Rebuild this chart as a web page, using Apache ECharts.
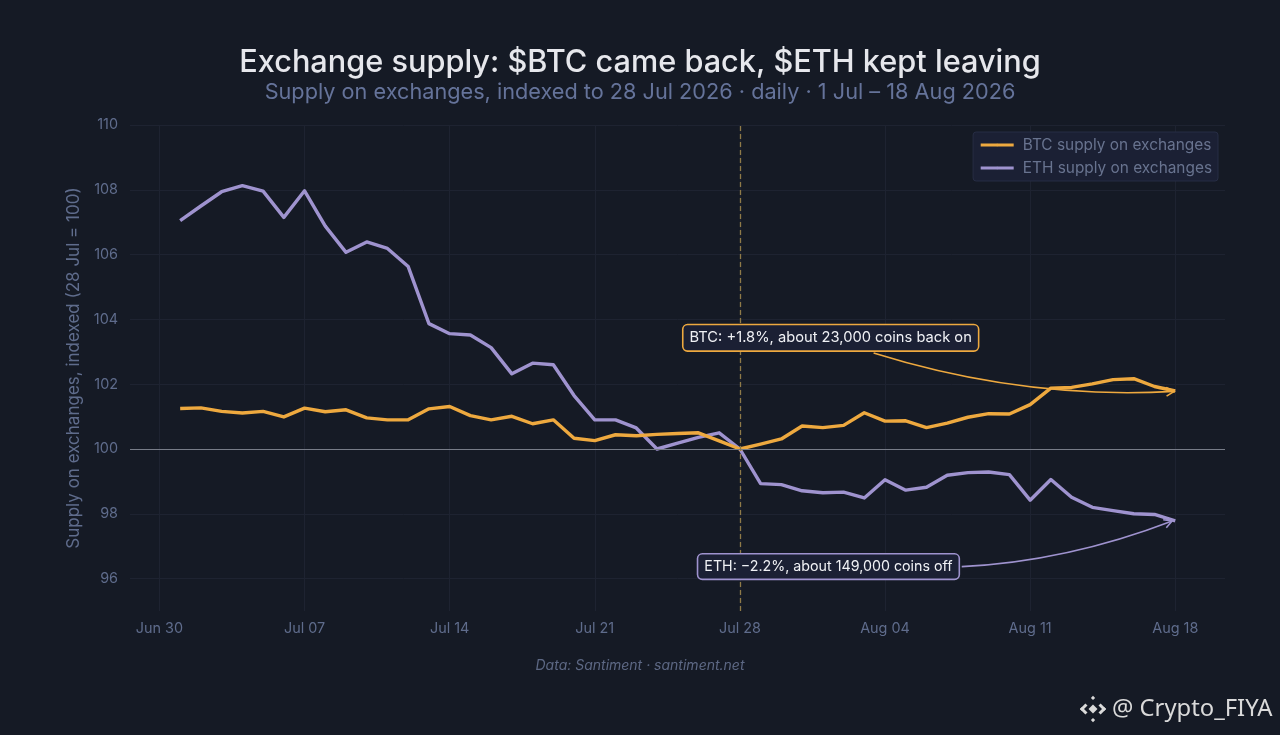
<!DOCTYPE html>
<html><head><meta charset="utf-8">
<script src="https://cdn.jsdelivr.net/npm/echarts@6/dist/echarts.min.js"></script>
<style>html,body{margin:0;padding:0;background:#151a25}#c{width:1280px;height:735px}</style>
</head><body><div id="c"></div>
<script>
// Day index: 0 = Jun 30, 1 = Jul 1 ... 49 = Aug 18
const days = [1,2,3,4,5,6,7,8,9,10,11,12,13,14,15,16,17,18,19,20,21,22,23,24,25,26,27,28,29,30,31,32,33,34,35,36,37,38,39,40,41,42,43,44,45,46,47,48,49];
const btc = [101.25,101.27,101.16,101.11,101.16,100.99,101.26,101.15,101.21,100.96,100.90,100.90,101.24,101.31,101.03,100.90,101.01,100.78,100.90,100.33,100.26,100.44,100.41,100.45,100.48,100.50,100.25,100.0,100.15,100.31,100.71,100.66,100.73,101.12,100.86,100.87,100.66,100.80,100.98,101.09,101.08,101.37,101.88,101.90,102.01,102.14,102.17,101.93,101.79];
const eth = [107.05,107.5,107.94,108.13,107.96,107.15,107.97,106.88,106.07,106.39,106.19,105.63,103.87,103.56,103.52,103.13,102.32,102.65,102.60,101.65,100.90,100.90,100.65,100.0,100.18,100.36,100.50,100.0,98.93,98.90,98.71,98.65,98.67,98.49,99.05,98.73,98.82,99.19,99.27,99.29,99.21,98.42,99.06,98.51,98.20,98.10,98.0,97.98,97.78];
const xTickValues = [0,7,14,21,28,35,42,49];
const xTickLabels = ['Jun 30','Jul 07','Jul 14','Jul 21','Jul 28','Aug 04','Aug 11','Aug 18'];
const yTickValues = [96,98,100,102,104,106,108,110];
const refDay = 28, refLevel = 100;
const legendNames = ['BTC supply on exchanges','ETH supply on exchanges'];
const BTC_C = '#EEA93F', ETH_C = '#9F93CF';
// callouts: label centre [day, value], arrow start, arrow end, bow in px
const callouts = [
  {text:'BTC: +1.8%, about 23,000 coins back on', size:14.7, color:BTC_C, at:[32.38,103.43], from:[34.45,102.96], to:[48.95,101.78], bow:14},
  {text:'ETH: \u22122.2%, about 149,000 coins off', size:14.25, color:ETH_C, at:[32.27,96.37], from:[38.7,96.37], to:[48.85,97.78], bow:9}
];

const chart = echarts.init(document.getElementById('c'));
const FONT = 'Inter, "Noto Sans", sans-serif';
const GRID = {color:'#1E2331',width:1};
chart.setOption({
  backgroundColor:'#151a25',
  animation:false,
  textStyle:{fontFamily:FONT},
  title:{
    text:'Exchange supply: $BTC came back, $ETH kept leaving',
    subtext:'Supply on exchanges, indexed to 28 Jul 2026 \u00b7 daily \u00b7 1 Jul \u2013 18 Aug 2026',
    left:'center', top:42, itemGap:3,
    textStyle:{color:'#E6E7EC',fontSize:30.7,fontWeight:500,fontFamily:FONT},
    subtextStyle:{color:'#65739A',fontSize:21.7,fontFamily:FONT}
  },
  legend:{
    data:legendNames, orient:'vertical', right:62, top:132, itemWidth:33, itemHeight:3, itemGap:5,
    padding:[4,6,4,6], backgroundColor:'#1B2034', borderColor:'#272D44', borderWidth:1, borderRadius:3,
    lineStyle:{width:3.2},
    textStyle:{color:'#68738F',fontSize:15.4,fontFamily:FONT,lineHeight:18,padding:[0,0,0,4]}
  },
  grid:{left:130,right:55,top:125,bottom:124},
  xAxis:{
    type:'value', min:-1.42, max:51.4,
    axisLine:{show:false}, axisTick:{show:false,customValues:xTickValues},
    axisLabel:{color:'#5F6C8C',fontSize:14.4,margin:11,customValues:xTickValues,
      formatter:v=>xTickLabels[xTickValues.indexOf(v)]||''},
    splitLine:{show:true,lineStyle:GRID}
  },
  yAxis:{
    type:'value', min:95, max:110,
    name:'Supply on exchanges, indexed (28 Jul = 100)', nameLocation:'middle', nameGap:39,
    nameTextStyle:{color:'#5F6C8C',fontSize:17},
    axisLine:{show:false}, axisTick:{show:false,customValues:yTickValues},
    axisLabel:{color:'#5F6C8C',fontSize:14.4,margin:12,customValues:yTickValues},
    splitLine:{show:true,lineStyle:GRID}
  },
  series:[
    {name:legendNames[0],type:'line',symbol:'none',z:4,data:days.map((d,i)=>[d,btc[i]]),
     lineStyle:{color:BTC_C,width:3.4,join:'round'},itemStyle:{color:BTC_C},
     markLine:{silent:true,symbol:'none',label:{show:false},animation:false,data:[
       {yAxis:refLevel,lineStyle:{color:'#777C88',width:1.2,type:'solid'}},
       {xAxis:refDay,lineStyle:{color:'#8F7A48',width:1.3,type:[5,3]}}
     ]}},
    {name:legendNames[1],type:'line',symbol:'none',z:3,data:days.map((d,i)=>[d,eth[i]]),
     lineStyle:{color:ETH_C,width:3.4,join:'round'},itemStyle:{color:ETH_C}},
    {type:'custom',z:6,clip:false,silent:true,data:callouts.map((_,i)=>i),
     renderItem:function(params,api){
       const c=callouts[api.value(0)];
       const a=api.coord(c.from), b=api.coord(c.to), t=api.coord(c.at);
       const dx=b[0]-a[0],dy=b[1]-a[1],len=Math.hypot(dx,dy);
       const cx=(a[0]+b[0])/2, cy=(a[1]+b[1])/2+c.bow*2*(dx/len);
       const ang=Math.atan2(b[1]-cy,b[0]-cx),L=9,sp=0.5;
       const h1=[b[0]-L*Math.cos(ang-sp),b[1]-L*Math.sin(ang-sp)];
       const h2=[b[0]-L*Math.cos(ang+sp),b[1]-L*Math.sin(ang+sp)];
       const st={fill:'none',stroke:c.color,lineWidth:1.6};
       return {type:'group',children:[
         {type:'bezierCurve',shape:{x1:a[0],y1:a[1],x2:b[0],y2:b[1],cpx1:cx,cpy1:cy},style:st},
         {type:'polyline',shape:{points:[h1,b,h2]},style:st},
         {type:'text',x:t[0],y:t[1],style:{text:c.text,fill:'#F0F1F5',font:c.size+'px '+FONT,
           align:'center',verticalAlign:'middle',backgroundColor:'#1B2034',borderColor:c.color,
           borderWidth:1.6,borderRadius:4,padding:[5,6,5,6]}}
       ]};
     }}
  ],
  graphic:[
    {type:'text',x:640,y:666,style:{text:'Data: Santiment \u00b7 santiment.net',fill:'#5D6884',
      font:'italic 14px '+FONT,align:'center',verticalAlign:'middle'}},
    {type:'text',x:1112,y:709,style:{text:'@ Crypto_FIYA',fill:'#DADADA',
      font:'23.8px "Noto Sans", sans-serif',align:'left',verticalAlign:'middle'}},
    {type:'group',x:1093,y:709,rotation:Math.PI/4,children:[
      {type:'rect',shape:{x:-3.2,y:-3.2,width:6.4,height:6.4},style:{fill:'#DADADA'}},
      {type:'rect',shape:{x:-9.3,y:-9.3,width:7.8,height:3},style:{fill:'#DADADA'}},
      {type:'rect',shape:{x:-9.3,y:-9.3,width:3,height:7.8},style:{fill:'#DADADA'}},
      {type:'rect',shape:{x:1.5,y:6.3,width:7.8,height:3},style:{fill:'#DADADA'}},
      {type:'rect',shape:{x:6.3,y:1.5,width:3,height:7.8},style:{fill:'#DADADA'}},
      {type:'rect',shape:{x:6.3,y:-9.3,width:3,height:3},style:{fill:'#DADADA'}},
      {type:'rect',shape:{x:-9.3,y:6.3,width:3,height:3},style:{fill:'#DADADA'}}
    ]}
  ]
});
</script></body></html>
